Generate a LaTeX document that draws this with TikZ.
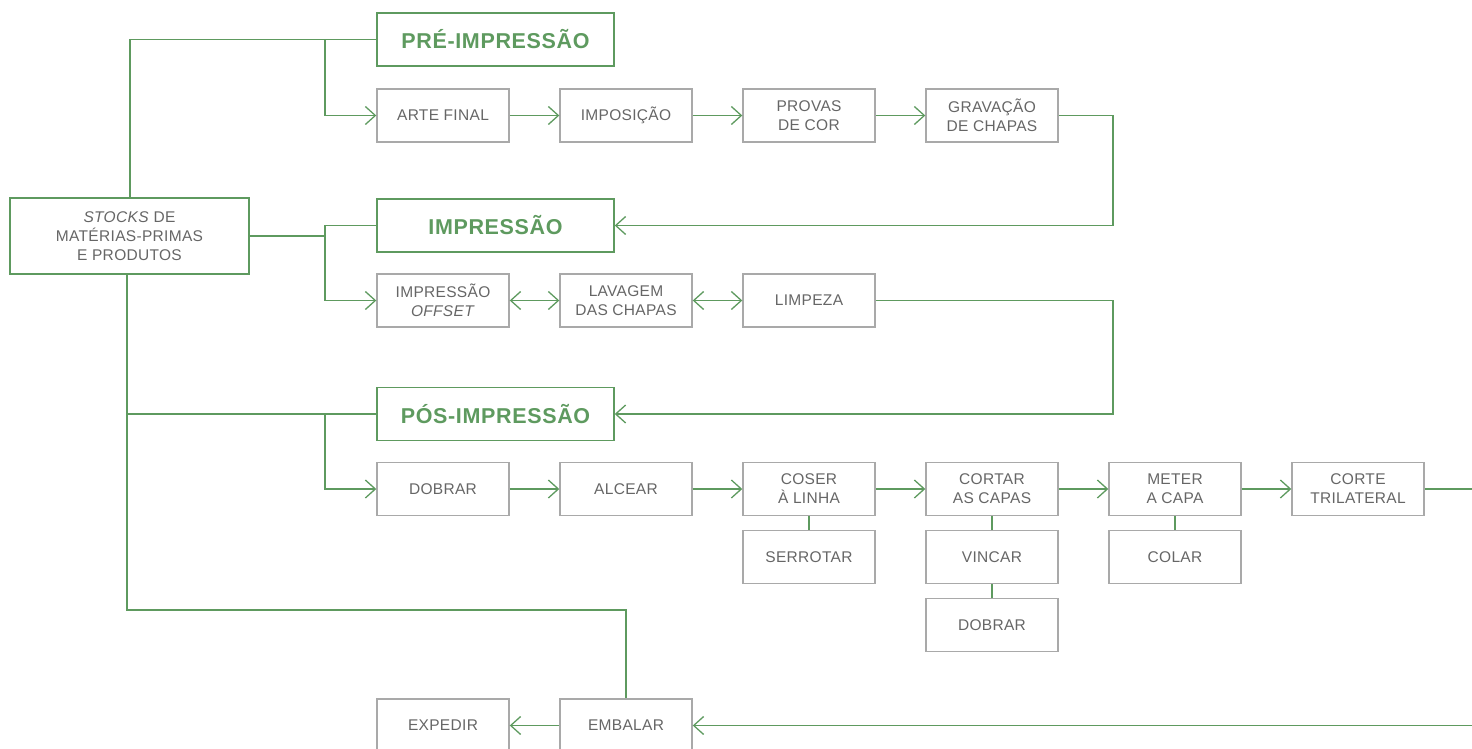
\documentclass[tikz,border=0pt]{standalone}
\usepackage{fontspec}
\setmainfont{Liberation Sans}
\usetikzlibrary{arrows.meta}
\definecolor{grn}{HTML}{5E9A5F}
\definecolor{bgray}{HTML}{A9A9A9}
\definecolor{tgray}{HTML}{666666}
\newfontfamily\bodyf[LetterSpace=2]{Liberation Sans}
\newfontfamily\titlef[LetterSpace=3]{Liberation Sans}
\tikzset{
  stepbox/.style={draw=bgray, line width=1.4pt, minimum width=132pt, minimum height=53pt, inner sep=0pt, text=tgray, align=center, font=\bodyf\fontsize{15.5}{19}\selectfont},
  phasebox/.style={draw=grn, line width=1.4pt, minimum width=237pt, minimum height=53pt, inner sep=0pt, text=grn, align=center, font=\titlef\bfseries\fontsize{21.5}{24}\selectfont},
  stockbox/.style={draw=grn, line width=1.4pt, minimum width=239pt, minimum height=76pt, inner sep=0pt, text=tgray, align=center, font=\bodyf\fontsize{15.5}{19}\selectfont},
  conn/.style={draw=grn, line width=1.3pt},
  arr/.style={conn, -{Straight Barb[length=10pt,width=18pt,line width=1.3pt]}},
  darr/.style={conn, {Straight Barb[length=10pt,width=18pt,line width=1.3pt]}-{Straight Barb[length=10pt,width=18pt,line width=1.3pt]}}
}
\begin{document}
\begin{tikzpicture}[x=1pt,y=-1pt]
\useasboundingbox (0,0) rectangle (1472,749);
% nodes
\node[stockbox] (stocks) at (129.5,236) {\textit{STOCKS} DE\\MATÉRIAS-PRIMAS\\E PRODUTOS};
\node[phasebox] (pre) at (495.5,39.5) {PRÉ-IMPRESSÃO};
\node[stepbox] (arte) at (443,115.5) {ARTE FINAL};
\node[stepbox] (impos) at (626,115.5) {IMPOSIÇÃO};
\node[stepbox] (provas) at (809,115.5) {PROVAS\\DE COR};
\node[stepbox] (grav) at (992,115.5) {GRAVAÇÃO\\DE CHAPAS};
\node[phasebox] (impr) at (495.5,225.5) {IMPRESSÃO};
\node[stepbox] (offset) at (443,300.5) {IMPRESSÃO\\\textit{OFFSET}};
\node[stepbox] (lavagem) at (626,300.5) {LAVAGEM\\DAS CHAPAS};
\node[stepbox] (limpeza) at (809,300.5) {LIMPEZA};
\node[phasebox] (pos) at (495.5,414) {PÓS-IMPRESSÃO};
\node[stepbox] (dobrar) at (443,489) {DOBRAR};
\node[stepbox] (alcear) at (626,489) {ALCEAR};
\node[stepbox] (coser) at (809,489) {COSER\\À LINHA};
\node[stepbox] (cortar) at (992,489) {CORTAR\\AS CAPAS};
\node[stepbox] (meter) at (1175,489) {METER\\A CAPA};
\node[stepbox] (corte) at (1358,489) {CORTE\\TRILATERAL};
\node[stepbox] (serrotar) at (809,557) {SERROTAR};
\node[stepbox] (vincar) at (992,557) {VINCAR};
\node[stepbox] (dobrarb) at (992,625) {DOBRAR};
\node[stepbox] (colar) at (1175,557) {COLAR};
\node[stepbox] (expedir) at (443,725.5) {EXPEDIR};
\node[stepbox] (embalar) at (626,725.5) {EMBALAR};
% helper coordinates
\coordinate (j1) at (325,0);
\coordinate (j2) at (127,610);
\coordinate (r1) at (1113,0);
\coordinate (e1) at (1482,489);
\coordinate (e2) at (1482,725.5);
% connectors from stocks
\draw[conn] ([xshift=0.5pt]stocks.north) |- (pre.west);
\draw[arr] (j1 |- pre.west) |- (arte.west);
\draw[conn] (stocks.east) -- (j1 |- stocks.east) |- (impr.west);
\draw[arr] (j1 |- stocks.east) |- (offset.west);
\draw[conn] ([xshift=-2.5pt]stocks.south) -- (j2) -| (embalar.north);
\draw[conn] (j2 |- pos.west) -- (pos.west);
\draw[arr] (j1 |- pos.west) |- (dobrar.west);
% pre-impressao chain
\draw[arr] (arte) -- (impos);
\draw[arr] (impos) -- (provas);
\draw[arr] (provas) -- (grav);
\draw[arr] (grav.east) -- (r1 |- grav.east) -- (r1 |- impr.east) -- (impr.east);
% impressao chain
\draw[darr] (offset) -- (lavagem);
\draw[darr] (lavagem) -- (limpeza);
\draw[arr] (limpeza.east) -- (r1 |- limpeza.east) -- (r1 |- pos.east) -- (pos.east);
% pos-impressao chain
\draw[arr] (dobrar) -- (alcear);
\draw[arr] (alcear) -- (coser);
\draw[arr] (coser) -- (cortar);
\draw[arr] (cortar) -- (meter);
\draw[arr] (meter) -- (corte);
\draw[conn] (coser) -- (serrotar);
\draw[conn] (cortar) -- (vincar);
\draw[conn] (vincar) -- (dobrarb);
\draw[conn] (meter) -- (colar);
\draw[arr] (corte.east) -- (e1) -- (e2) -- (embalar.east);
\draw[arr] (embalar) -- (expedir);
\end{tikzpicture}
\end{document}
